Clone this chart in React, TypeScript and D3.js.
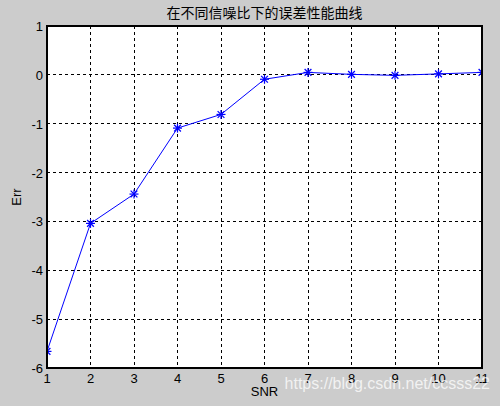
import React from "react";
import * as d3 from "d3";

const snr = [1, 2, 3, 4, 5, 6, 7, 8, 9, 10, 11];
const err = [-5.66, -3.04, -2.44, -1.09, -0.81, -0.09, 0.05, 0.01, -0.01, 0.02, 0.05];
const xTicks = [1, 2, 3, 4, 5, 6, 7, 8, 9, 10, 11];
const yTicks = [1, 0, -1, -2, -3, -4, -5, -6];
const title = "在不同信噪比下的误差性能曲线";
const xLabel = "SNR";
const yLabel = "Err";
const watermark = "https://blog.csdn.net/ccsss22";

const W = 500, H = 406;
const L = 47, R = 482, T = 26, B = 368;

export default function App() {
  const x = d3.scaleLinear().domain([1, 11]).range([L, R]);
  const y = d3.scaleLinear().domain([-6, 1]).range([B, T]);
  const line = d3.line<number>().x((_, i) => x(snr[i])).y((d) => y(d));
  const font = "'Liberation Sans', Arial, sans-serif";
  const s = 4.5;
  return (
    <svg width={W} height={H} style={{ position: "absolute", left: 0, top: 0 }}>
      <defs>
        <clipPath id="plotclip">
          <rect x={L} y={T} width={R - L} height={B - T} />
        </clipPath>
      </defs>
      <rect x={0} y={0} width={W} height={H} fill="#cccccc" />
      <rect x={L} y={T} width={R - L} height={B - T} fill="#ffffff" />
      {xTicks.slice(1, -1).map((t) => (
        <line key={"gx" + t} x1={x(t)} x2={x(t)} y1={T} y2={B} stroke="#000" strokeWidth={1} strokeDasharray="3,3" shapeRendering="crispEdges" />
      ))}
      {yTicks.slice(1, -1).map((t) => (
        <line key={"gy" + t} x1={L} x2={R} y1={y(t)} y2={y(t)} stroke="#000" strokeWidth={1} strokeDasharray="3,3" shapeRendering="crispEdges" />
      ))}
      <g clipPath="url(#plotclip)">
        <path d={line(err) || ""} fill="none" stroke="#0000ff" strokeWidth={1} />
        {err.map((v, i) => {
          const cx = x(snr[i]), cy = y(v);
          return (
            <g key={"m" + i} stroke="#0000ff" strokeWidth={1.2}>
              <line x1={cx - s} x2={cx + s} y1={cy} y2={cy} />
              <line x1={cx} x2={cx} y1={cy - s} y2={cy + s} />
              <line x1={cx - s * 0.75} x2={cx + s * 0.75} y1={cy - s * 0.75} y2={cy + s * 0.75} />
              <line x1={cx - s * 0.75} x2={cx + s * 0.75} y1={cy + s * 0.75} y2={cy - s * 0.75} />
            </g>
          );
        })}
      </g>
      <rect x={L} y={T} width={R - L} height={B - T} fill="none" stroke="#000" strokeWidth={1.2} shapeRendering="crispEdges" />
      {xTicks.map((t) => (
        <text key={"xt" + t} x={x(t)} y={B + 15} textAnchor="middle" fontFamily={font} fontSize={13} fill="#000">{t}</text>
      ))}
      {yTicks.map((t) => (
        <text key={"yt" + t} x={L - 4} y={y(t) + 5} textAnchor="end" fontFamily={font} fontSize={13} fill="#000">{t}</text>
      ))}
      <text x={(L + R) / 2} y={18} textAnchor="middle" fontFamily="'Noto Sans CJK SC', sans-serif" fontSize={14} fill="#000">{title}</text>
      <text x={(L + R) / 2} y={396} textAnchor="middle" fontFamily={font} fontSize={13} fill="#000">{xLabel}</text>
      <text transform={`translate(21,${(T + B) / 2}) rotate(-90)`} textAnchor="middle" fontFamily={font} fontSize={13} fill="#000">{yLabel}</text>
      <text x={490} y={389} textAnchor="end" fontFamily={font} fontSize={16} fill="#ffffff" fillOpacity={0.75}>{watermark}</text>
    </svg>
  );
}
